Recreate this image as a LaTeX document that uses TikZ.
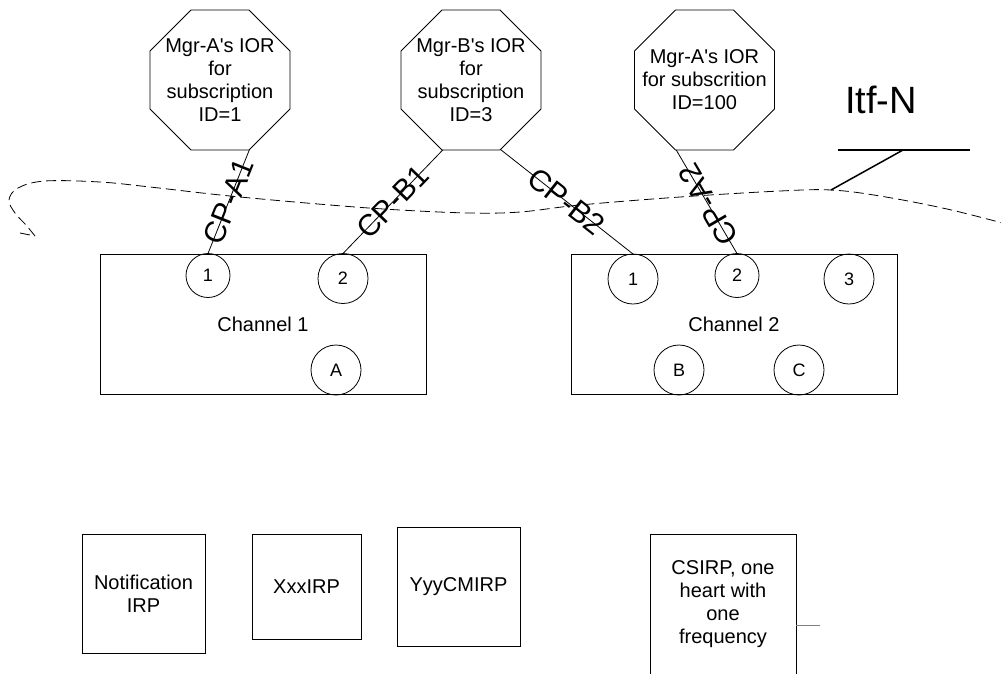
\documentclass[tikz,border=0pt]{standalone}
\usepackage{fontspec}
\setmainfont{Liberation Sans}[Ligatures=TeXOff]
\usetikzlibrary{shapes.geometric}
\begin{document}
\begin{tikzpicture}[x=1pt,y=-1pt, line width=0.8pt,
  every node/.style={inner sep=0pt, outer sep=0pt},
  txt/.style={font=\fontsize{20}{23}\selectfont, align=center},
  octo/.style={draw, regular polygon, regular polygon sides=8, minimum size=151.5pt},
  box/.style={draw, rectangle, txt},
  port/.style={draw, circle, font=\fontsize{18}{20}\selectfont},
  small/.style={minimum size=44pt},
  big/.style={minimum size=50pt},
  cplabel/.style={font=\fontsize{30}{34}\selectfont, sloped},
  itfline/.style={dash pattern=on 10pt off 5pt, line width=0.8pt},
  pointer/.style={line width=1.5pt}
]
\clip (0,0) rectangle (1001,673);
\fill[white] (0,0) rectangle (1001,673);

% octagons
\node[octo] (oA) at (220,80) {};
\node[txt] (tA) at (oA.center) {Mgr-A's IOR\\for\\subscription\\ID=1};
\node[octo] (oB) at (471,80) {};
\node[txt] (tB) at (oB.center) {Mgr-B's IOR\\for\\subscription\\ID=3};
\node[octo] (oC) at (704.5,80) {};
\node[txt] (tC) at (oC.center) {Mgr-A's IOR\\for subscrition\\ID=100};

% channels
\node[box, minimum width=326pt, minimum height=140pt] (ch1) at (263,324) {Channel 1};
\node[box, minimum width=326pt, minimum height=140pt] (ch2) at (734,324) {Channel 2};

\node[port, small] (c11) at (208,275.5) {1};
\node[port, big] (c12) at (343,278.5) {2};
\node[port, big] (cA) at (336,370) {A};
\node[port, big] (c21) at (633,279) {1};
\node[port, small] (c22) at (737,275.5) {2};
\node[port, big] (c23) at (849,279) {3};
\node[port, big] (cB) at (679,370) {B};
\node[port, big] (cC) at (799,370) {C};

% connectors
\draw (oA.-67.5) -- node[cplabel, pos=0.5] (lA1) {CP-A1} (c11.north);
\draw (oB.-112.5) -- node[cplabel, pos=0.5] (lB1) {CP-B1} (c12.north);
\draw (oB.-67.5) -- node[cplabel, pos=0.5] (lB2) {CP-B2} (c21.north);
\draw (c22.north) -- node[cplabel, allow upside down, pos=0.47] (lA2) {CP-A2} (oC.-112.5);

% Itf-N boundary
\draw[itfline] (20,233) -- (35,236)
  plot[smooth, tension=0.6] coordinates {(35,236) (26,225) (15,213) (9,200) (18,188) (45,181) (100,182) (150,187) (230,196) (330,205) (400,210) (470,213) (520,212) (580,205) (680,197) (780,191) (831,190) (880,196) (947,209) (1010,225)};
\node[font=\fontsize{38}{40}\selectfont] (itf) at (881,100) {Itf-N};
\coordinate (barL) at (838,150);
\coordinate (barR) at (970,150);
\coordinate (barM) at (903,150);
\coordinate (tip) at (831,190);
\draw[pointer] (barL) -- (barR);
\draw[pointer] (barM) -- (tip);

% IRP boxes
\node[box, minimum width=123pt, minimum height=119pt] (notif) at (143.5,593.5) {Notification\\IRP};
\node[box, minimum width=109pt, minimum height=105pt] (xxx) at (306.5,586.5) {XxxIRP};
\node[box, minimum width=123pt, minimum height=119pt] (yyy) at (458.5,586.5) {YyyCMIRP};
\node[draw, minimum width=146pt, minimum height=200pt] (cs) at (723,634) {};
\node[txt] (cstext) at (723,604) {CSIRP, one\\heart with\\one\\frequency};
\coordinate (stub) at (820,625);
\draw[gray] (cs.east |- stub) -- (stub);
\end{tikzpicture}
\end{document}
